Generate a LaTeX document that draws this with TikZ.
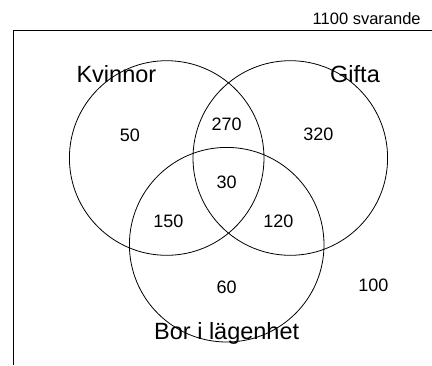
\documentclass[tikz,border=0pt]{standalone}
\usepackage{fontspec}
\setmainfont{Liberation Sans}
\tikzstyle{set} = [circle, draw=black, minimum size=194.6pt, inner sep=0pt, line width=0.8pt]
\tikzstyle{count} = [font=\fontsize{18}{18}\selectfont, inner sep=0pt]
\tikzstyle{setname} = [font=\fontsize{23.5}{23.5}\selectfont, inner sep=0pt, anchor=base]
\tikzstyle{frame} = [line width=0.9pt]

\begin{document}
\begin{tikzpicture}[x=1pt,y=-1pt]
\useasboundingbox (0,0) rectangle (432,365);

\coordinate (corner) at (13.5,30.7);
\coordinate (topend) at (432,30.7);
\coordinate (leftend) at (13.5,365);
\draw [frame] (topend) -- (corner) -- (leftend);

\node (total) [count, font=\fontsize{16.5}{16.5}\selectfont] at (366.7,18.5) {1100 svarande};

\node (kvinnor) [set] at (166.7,158) {};
\node (gifta) [set] at (290.3,158) {};
\node (bor) [set] at (226.7,244.7) {};

\node (kvinnorname) [setname] at (116.4,82.3) {Kvinnor};
\node (giftaname) [setname] at (355,82.3) {Gifta};
\node (borname) [setname] at (226.7,339) {Bor i lägenhet};

\node (onlyk) [count] at (130,135) {50};
\node (kg) [count] at (226.7,124) {270};
\node (onlyg) [count] at (318.3,134) {320};
\node (kgb) [count] at (226.7,182.7) {30};
\node (kb) [count] at (168.3,221.7) {150};
\node (gb) [count] at (278.3,221.7) {120};
\node (onlyb) [count] at (226.7,287.7) {60};
\node (none) [count] at (373.3,285.7) {100};

\end{tikzpicture}
\end{document}
